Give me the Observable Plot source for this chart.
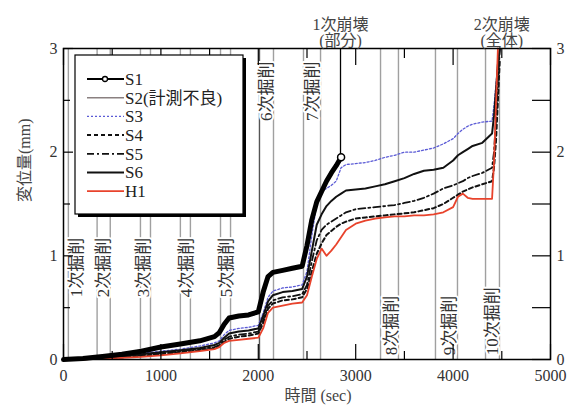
<!DOCTYPE html>
<html><head><meta charset="utf-8">
<script src="https://cdn.jsdelivr.net/npm/d3@7"></script>
<script src="https://cdn.jsdelivr.net/npm/@observablehq/plot@0.6"></script>
<style>
body{margin:0;background:#fff;}
#chart{width:581px;height:411px;}
</style></head><body><div id="chart"></div>
<script>
// ---------- data ----------
const times = [0,200,400,600,800,1000,1200,1400,1550,1600,1650,1700,1800,1900,2000,2050,2100,2150,2250,2350,2450,2500,2550,2600,2650,2700,2750,2800,2850,2900,3000,3100,3200,3300,3400,3500,3600,3700,3800,3900,4000,4050,4100,4150,4200,4300,4400,4420,4440,4460,4480];
const S1 = [0,0.01,0.03,0.05,0.08,0.12,0.15,0.18,0.22,0.26,0.34,0.40,0.42,0.43,0.46,0.65,0.80,0.84,0.86,0.88,0.90,1.10,1.35,1.52,1.62,1.72,1.80,1.87,1.95,
  null,null,null,null,null,null,null,null,null,null,null,null,null,null,null,null,null,null,null,null,null,null,null];
const S3 = [0,0.01,0.02,0.04,0.06,0.08,0.10,0.13,0.16,0.18,0.24,0.28,0.30,0.31,0.33,0.45,0.60,0.66,0.69,0.70,0.72,0.85,1.20,1.50,1.62,1.65,1.68,1.72,1.85,1.88,1.89,1.90,1.92,1.95,1.97,2.00,2.00,2.02,2.04,2.08,2.13,2.18,2.22,2.25,2.27,2.29,2.30,2.45,2.65,2.85,3.00];
const S6 = [0,0.005,0.015,0.03,0.05,0.07,0.09,0.11,0.14,0.16,0.21,0.25,0.27,0.28,0.30,0.42,0.56,0.62,0.65,0.66,0.68,0.80,1.05,1.30,1.40,1.48,1.53,1.57,1.60,1.63,1.64,1.65,1.67,1.69,1.72,1.75,1.79,1.82,1.83,1.85,1.92,1.97,2.00,2.03,2.06,2.09,2.18,2.35,2.60,2.85,3.00];
const S5 = [0,0.004,0.012,0.025,0.04,0.06,0.08,0.10,0.12,0.14,0.19,0.22,0.24,0.25,0.27,0.38,0.52,0.57,0.60,0.61,0.63,0.72,0.95,1.15,1.25,1.30,1.33,1.36,1.39,1.42,1.45,1.46,1.47,1.48,1.49,1.51,1.53,1.56,1.60,1.65,1.68,1.70,1.72,1.75,1.77,1.80,1.85,2.00,2.30,2.70,3.00];
const S4 = [0,0.003,0.01,0.02,0.035,0.05,0.07,0.09,0.11,0.13,0.17,0.20,0.22,0.23,0.25,0.35,0.49,0.54,0.57,0.58,0.60,0.68,0.85,1.02,1.12,1.20,1.24,1.28,1.31,1.33,1.36,1.37,1.38,1.39,1.40,1.41,1.42,1.44,1.46,1.50,1.56,1.59,1.62,1.64,1.66,1.69,1.72,1.85,2.10,2.50,2.90];
const H1 = [0,0.002,0.008,0.015,0.025,0.04,0.06,0.08,0.10,0.12,0.16,0.18,0.19,0.20,0.21,0.30,0.45,0.50,0.52,0.54,0.55,0.62,0.80,0.97,1.07,1.00,1.05,1.11,1.18,1.25,1.31,1.34,1.36,1.37,1.38,1.38,1.39,1.39,1.40,1.42,1.47,1.57,1.60,1.56,1.55,1.55,1.55,1.90,2.45,3.00,null];

const legendNames = ["S1","S2(計測不良)","S3","S4","S5","S6","H1"];
const eventLines = [50,345,480,790,893,1200,1303,1612,1715,2012,2156,2464,2639,3255,3439,3819,4045,4333,4476];
const eventLabels = ["1次掘削","2次掘削","3次掘削","4次掘削","5次掘削","6次掘削","7次掘削","8次掘削","9次掘削","10次掘削"];
const eventLabelX = [133,416,826,1263,1673,2089,2556,3373,3968,4405];
const eventLabelY = [0.6,0.6,0.6,0.6,0.6,2.3,2.3,0.04,0.04,0.04];
const collapseTimes = [2844,4500];
const collapseLabels = ["1次崩壊\n(部分)","2次崩壊\n(全体)"];
const xMajor = [0,1000,2000,3000,4000,5000];
const xMinor = [500,1500,2500,3500,4500];
const yMajor = [0,1,2,3];
const yMinor = [0.5,1.5,2.5];

// ---------- styles ----------
const FONT = "'Liberation Serif','Noto Sans CJK JP',serif";
const styles = {
  S1:{stroke:"#000",strokeWidth:5},
  "S2(計測不良)":{stroke:"#8a8080",strokeWidth:1.5},
  S3:{stroke:"#5b5bd6",strokeWidth:1.3,strokeDasharray:"2,2"},
  S4:{stroke:"#111",strokeWidth:2,strokeDasharray:"4,3"},
  S5:{stroke:"#111",strokeWidth:1.8,strokeDasharray:"7,3,2,3"},
  S6:{stroke:"#111",strokeWidth:2},
  H1:{stroke:"#e8432c",strokeWidth:1.8}
};
const plotted = [["S3",S3],["S6",S6],["S5",S5],["S4",S4],["H1",H1],["S1",S1]];

const W = 581, Hh = 411, mL = 63, mR = 31, mT = 48, mB = 52;
const FW = W - mL - mR, FH = Hh - mT - mB;

const rows = name => arr => times.map((t,i)=>({t, v:arr[i], s:name})).filter(d=>d.v!=null);
const s1rows = rows("S1")(S1);
const s1end = s1rows[s1rows.length-1];

const marks = [
  Plot.ruleX(eventLines, {stroke: d => d===2012 ? "#555" : "#a0a0a0", strokeWidth:1.4}),
  Plot.ruleX([collapseTimes[0]], {y1: s1end.v, y2: 3, stroke:"#000", strokeWidth:1.3}),
  Plot.text(eventLabels, {x:(d,i)=>eventLabelX[i], y:(d,i)=>eventLabelY[i], text:d=>d, rotate:-90, textAnchor:"start",
    fontSize:17, fill:"#333", stroke:"white", strokeWidth:4, fontFamily:FONT}),
];
for (const [name, arr] of plotted) {
  marks.push(Plot.line(rows(name)(arr), {x:"t", y:"v", curve:"linear", ...styles[name]}));
}
marks.push(Plot.dot([s1end], {x:"t", y:"v", r:3.5, fill:"white", stroke:"#000", strokeWidth:1.5}));
// ticks (inward)
marks.push(
  Plot.ruleX(xMajor, {insetTop: FH-15, stroke:"#000", strokeWidth:1.2}),
  Plot.ruleX(xMinor, {insetTop: FH-8, stroke:"#000", strokeWidth:1.2}),
  Plot.ruleX(xMajor, {insetBottom: FH-17, stroke:"#000", strokeWidth:1.2}),
  Plot.ruleX(xMinor, {insetBottom: FH-10, stroke:"#000", strokeWidth:1.2}),
  Plot.ruleY(yMajor, {insetRight: FW-10, stroke:"#000", strokeWidth:1.2}),
  Plot.ruleY(yMinor, {insetRight: FW-7, stroke:"#000", strokeWidth:1.2}),
  Plot.ruleY(yMajor, {insetLeft: FW-18, stroke:"#000", strokeWidth:1.2}),
  Plot.ruleY(yMinor, {insetLeft: FW-18, stroke:"#000", strokeWidth:1.2}),
  Plot.frame({stroke:"#000", strokeWidth:1.5}),
  Plot.axisX({anchor:"bottom", ticks:xMajor, tickSize:0, tickPadding:10, tickFormat:d=>String(d), label:null, fontSize:16}),
  Plot.axisY({anchor:"left", ticks:yMajor, tickSize:0, tickPadding:6, tickFormat:d=>String(d), label:null, fontSize:16}),
  Plot.axisY({anchor:"right", ticks:yMajor, tickSize:0, tickPadding:6, tickFormat:d=>String(d), label:null, fontSize:16}),
  Plot.text(["時間 (sec)"], {frameAnchor:"bottom", dx:11, dy:41, fontSize:16, fill:"#444"}),
  Plot.text(["変位量(mm)"], {frameAnchor:"left", rotate:-90, dx:-39, dy:-2, fontSize:16, fill:"#444"}),
  Plot.text(collapseLabels, {x:(d,i)=>collapseTimes[i], frameAnchor:"top", lineAnchor:"bottom", dy:-3, lineHeight:1.0, fontSize:16, fill:"#444"})
);

const chart = Plot.plot({
  width:W, height:Hh, marginLeft:mL, marginRight:mR, marginTop:mT, marginBottom:mB,
  x:{domain:[0,5000]}, y:{domain:[0,3]},
  style:{fontFamily:FONT, fontSize:"16px", color:"#333", background:"#fff"},
  marks
});
document.getElementById("chart").appendChild(chart);

// legend box
const svg = d3.select(chart);
const lg = svg.append("g").attr("font-family", FONT).attr("font-size", 17).attr("text-anchor","start");
const bx = 75, by = 55, bw = 168, bh = 159;
lg.append("rect").attr("x",bx+3).attr("y",by+3).attr("width",bw).attr("height",bh).attr("fill","#000");
lg.append("rect").attr("x",bx).attr("y",by).attr("width",bw).attr("height",bh).attr("fill","#fff").attr("stroke","#000").attr("stroke-width",1.2);
legendNames.forEach((n,i)=>{
  const y = 79 + i*18.7;
  const st = styles[n];
  lg.append("line").attr("x1",87).attr("x2",124).attr("y1",y).attr("y2",y)
    .attr("stroke",st.stroke).attr("stroke-width",Math.min(st.strokeWidth,2))
    .attr("stroke-dasharray",st.strokeDasharray||null);
  if (n==="S1") lg.append("circle").attr("cx",105).attr("cy",y).attr("r",2.5).attr("fill","#fff").attr("stroke","#000").attr("stroke-width",1.3);
  lg.append("text").attr("x",125).attr("y",y).attr("dy","0.35em").attr("text-anchor","start").attr("fill","#222").text(n);
});
</script></body></html>
